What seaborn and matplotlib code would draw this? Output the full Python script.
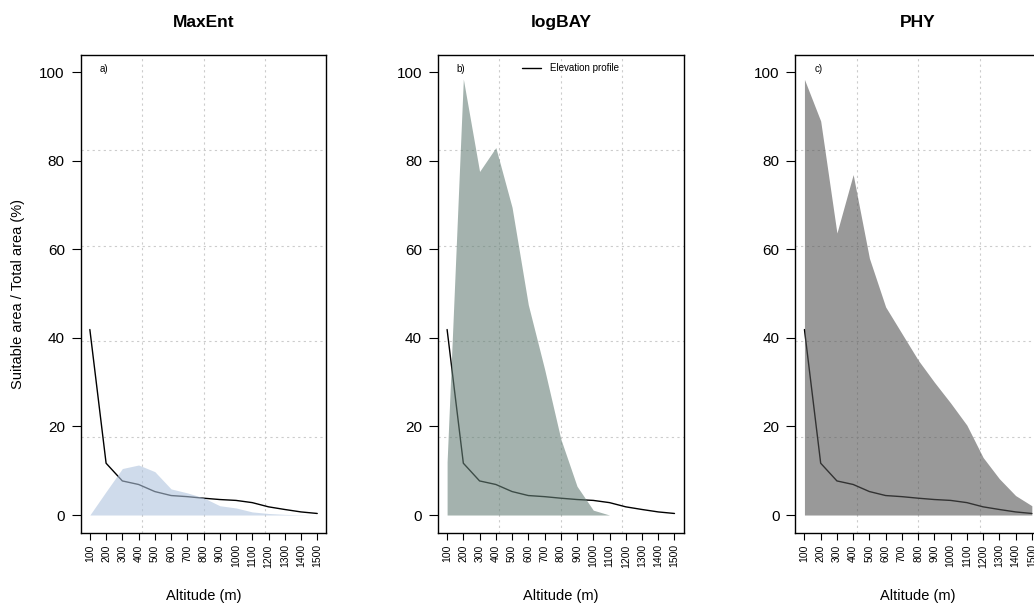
import numpy as np
import pandas as pd
import matplotlib
matplotlib.use("Agg")
import matplotlib.pyplot as plt
import seaborn as sns

# Altitude classes (m)
altitude = [100, 200, 300, 400, 500, 600, 700, 800, 900, 1000, 1100, 1200, 1300, 1400, 1500]

# Share of the study area in each altitude class (%)
elevation_profile = [41.9, 11.7, 7.7, 6.9, 5.3, 4.4, 4.15, 3.8, 3.5, 3.3, 2.8, 1.85, 1.25, 0.7, 0.35]

# Suitable area / total area (%) per model
maxent = [0.0, 5.3, 10.5, 11.3, 9.8, 5.9, 5.0, 3.9, 2.1, 1.6, 0.7, 0.35, 0.15, 0.05, 0.0]
logbay = [12.0, 98.5, 77.6, 83.0, 69.5, 47.5, 33.0, 17.2, 6.5, 1.1, 0.0, 0.0, 0.0, 0.0, 0.0]
phy = [98.4, 89.0, 63.7, 76.9, 58.0, 47.0, 41.0, 35.0, 30.0, 25.3, 20.3, 13.0, 8.2, 4.4, 2.1]

titles = ["MaxEnt", "logBAY", "PHY"]
panel_tags = ["a)", "b)", "c)"]
fill_colors = ["#B0C4DE", "#678078", "#555555"]

sns.set_theme(style="white", rc={
    "axes.edgecolor": "black",
    "axes.linewidth": 1.0,
    "xtick.color": "black",
    "ytick.color": "black",
    "text.color": "black",
    "axes.labelcolor": "black",
    "xtick.bottom": True,
    "ytick.left": True,
})
plt.rcParams["font.family"] = ["Liberation Sans", "DejaVu Sans"]

df = pd.DataFrame({
    "altitude": altitude,
    "elevation": elevation_profile,
    "MaxEnt": maxent,
    "logBAY": logbay,
    "PHY": phy,
})

fig = plt.figure(figsize=(10.34, 6.08), dpi=100)
lefts = [0.0781, 0.4236, 0.7692]
bottom, width, height = 0.1238, 0.2375, 0.7864

x_lo, x_hi = 44, 1556
y_lo, y_hi = -4, 104
v_grid = [x_lo + k * (x_hi - x_lo) / 4 for k in (1, 2, 3)]
h_grid = [y_lo + k * (y_hi - y_lo) / 5 for k in (1, 2, 3, 4)]

for i, (name, tag, col, left) in enumerate(zip(titles, panel_tags, fill_colors, lefts)):
    ax = fig.add_axes([left, bottom, width, height])
    ax.set_xlim(x_lo, x_hi)
    ax.set_ylim(y_lo, y_hi)

    for gx in v_grid:
        ax.axvline(gx, color="#cccccc", lw=0.8, ls=(0, (2, 3)), zorder=0)
    for gy in h_grid:
        ax.axhline(gy, color="#cccccc", lw=0.8, ls=(0, (2, 3)), zorder=0)

    sns.lineplot(data=df, x="altitude", y="elevation", color="black", lw=1.0,
                 ax=ax, label="Elevation profile", zorder=2)
    ax.fill_between(df["altitude"], 0, df[name], color=col, alpha=0.6,
                    lw=0, zorder=3)

    ax.set_xticks(altitude)
    ax.set_xticklabels([str(a) for a in altitude], rotation=90, fontsize=7.5)
    ax.set_yticks([0, 20, 40, 60, 80, 100])
    ax.set_yticklabels(["0", "20", "40", "60", "80", "100"], fontsize=11)
    ax.tick_params(axis="x", length=5.3, width=0.8, pad=3)
    ax.tick_params(axis="y", length=6.5, width=0.8, pad=5)

    ax.set_xlabel("")
    ax.set_ylabel("")
    ax.text(0.5, -0.133, "Altitude (m)", transform=ax.transAxes,
            ha="center", va="center", fontsize=10.5)
    ax.text(0.5, 1.068, name, transform=ax.transAxes, ha="center",
            va="center", fontsize=12.5, fontweight="bold")
    ax.text(160, 100.7, tag, ha="left", va="center", fontsize=7)

    if i == 1:
        ax.legend(loc="center left", bbox_to_anchor=(0.341, 0.972),
                  frameon=False, fontsize=7, handlelength=2.0,
                  handletextpad=0.9, borderpad=0, borderaxespad=0)
    else:
        leg = ax.get_legend()
        if leg is not None:
            leg.remove()

    if i == 0:
        ax.text(-0.255, 0.5, "Suitable area / Total area (%)",
                transform=ax.transAxes, rotation=90, ha="center",
                va="center", fontsize=10.5)

fig.savefig("out.png", dpi=100)
